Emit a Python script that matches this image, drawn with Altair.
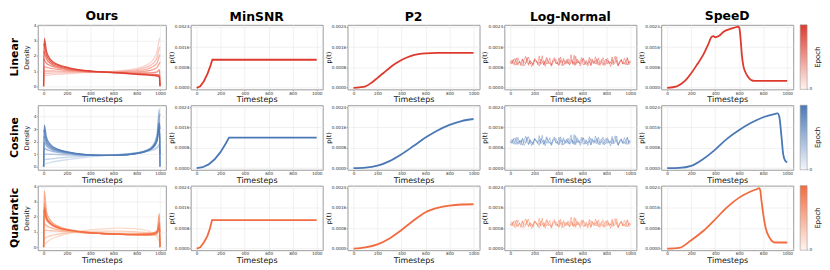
import altair as alt
import numpy as np
import pandas as pd

FONT = "DejaVu Sans"

ROWS = ["Linear", "Cosine", "Quadratic"]
COLS = ["Ours", "MinSNR", "P2", "Log-Normal", "SpeeD"]
ROW_COLORS = ["#dd3a2d", "#4a78b6", "#f26b3f"]
ROW_LIGHT = ["#f9cbc5", "#c9d9ed", "#fcd3c1"]
CB_LIGHT = ["#fff2ef", "#f2f6fb", "#fff4ee"]

X_TICKS = [0, 200, 400, 600, 800, 1000]
P_TICKS = [0.0, 0.0008, 0.0016, 0.0024]
D_TICKS = [0, 1, 2, 3, 4]
D_DOMAINS = [[-0.2, 4.05], [-0.25, 4.9], [-0.2, 4.05]]

# ---- Ours: density curves over training epochs (light = early, dark = late)
OURS_T = [0, 6, 25, 60, 120, 220, 350, 500, 650, 780, 880, 940, 975, 994, 1000]
OURS_LINEAR = [
    [0.0, 0.70, 0.72, 0.75, 0.79, 0.84, 0.90, 0.95, 1.02, 1.15, 1.38, 1.75, 2.30, 3.10, 3.20],
    [0.0, 0.84, 0.85, 0.87, 0.89, 0.91, 0.93, 0.95, 0.99, 1.08, 1.24, 1.50, 1.90, 2.50, 2.60],
    [0.0, 1.00, 1.01, 1.01, 1.00, 0.98, 0.95, 0.94, 0.96, 1.02, 1.12, 1.30, 1.55, 2.00, 2.10],
    [0.0, 1.30, 1.25, 1.18, 1.12, 1.04, 0.97, 0.94, 0.93, 0.95, 1.00, 1.10, 1.25, 1.50, 1.60],
    [1.8, 1.75, 1.52, 1.36, 1.22, 1.09, 0.99, 0.94, 0.90, 0.88, 0.88, 0.90, 0.95, 1.10, 0.50],
    [2.3, 2.25, 1.80, 1.50, 1.30, 1.14, 1.01, 0.94, 0.89, 0.84, 0.81, 0.79, 0.77, 0.74, 0.10],
    [2.8, 2.70, 2.05, 1.62, 1.38, 1.18, 1.03, 0.95, 0.88, 0.82, 0.78, 0.75, 0.72, 0.66, 0.0],
    [0.0, 3.15, 2.30, 1.75, 1.45, 1.22, 1.05, 0.95, 0.88, 0.80, 0.75, 0.71, 0.67, 0.60, 0.0],
]
OURS_COSINE = [
    [0.0, 0.20, 0.26, 0.34, 0.45, 0.58, 0.73, 0.85, 0.96, 1.08, 1.20, 1.32, 1.45, 1.60, 0.30],
    [0.0, 0.55, 0.58, 0.62, 0.68, 0.76, 0.84, 0.90, 0.97, 1.08, 1.22, 1.38, 1.55, 1.80, 0.0],
    [0.0, 1.00, 1.00, 0.99, 0.97, 0.93, 0.90, 0.90, 0.95, 1.07, 1.28, 1.60, 2.20, 3.00, 2.00],
    [0.0, 1.50, 1.38, 1.26, 1.14, 1.02, 0.93, 0.90, 0.94, 1.06, 1.28, 1.70, 2.60, 4.60, 0.0],
    [0.0, 1.95, 1.65, 1.42, 1.22, 1.06, 0.94, 0.90, 0.93, 1.05, 1.25, 1.62, 2.35, 4.00, 4.20],
    [2.4, 2.35, 1.85, 1.52, 1.28, 1.09, 0.95, 0.90, 0.92, 1.03, 1.22, 1.55, 2.15, 3.40, 3.00],
    [2.9, 2.80, 2.05, 1.62, 1.33, 1.12, 0.96, 0.90, 0.92, 1.02, 1.22, 1.52, 2.05, 3.10, 1.00],
    [0.0, 3.30, 2.30, 1.75, 1.40, 1.15, 0.97, 0.90, 0.92, 1.03, 1.25, 1.60, 2.20, 3.50, 0.0],
]
OURS_QUADRATIC = [
    [0.0, 0.15, 0.30, 0.50, 0.70, 0.90, 1.10, 1.20, 1.25, 1.22, 1.10, 0.90, 0.65, 0.35, 0.20],
    [0.0, 0.55, 0.65, 0.75, 0.85, 0.95, 1.02, 1.05, 1.05, 1.02, 0.95, 0.88, 0.80, 0.70, 0.0],
    [0.0, 1.10, 1.10, 1.08, 1.05, 1.00, 0.95, 0.92, 0.90, 0.90, 0.92, 0.96, 1.05, 1.35, 0.0],
    [1.6, 1.55, 1.40, 1.28, 1.15, 1.04, 0.95, 0.90, 0.87, 0.86, 0.88, 0.93, 1.05, 1.50, 1.60],
    [0.0, 3.70, 2.30, 1.75, 1.40, 1.15, 0.99, 0.90, 0.84, 0.80, 0.78, 0.80, 0.90, 1.20, 0.0],
    [0.0, 2.90, 2.00, 1.60, 1.32, 1.12, 0.98, 0.90, 0.85, 0.82, 0.83, 0.88, 1.00, 2.20, 0.0],
    [2.4, 2.30, 1.80, 1.50, 1.27, 1.10, 0.97, 0.90, 0.86, 0.84, 0.85, 0.90, 1.05, 1.60, 1.00],
    [0.0, 2.60, 1.90, 1.55, 1.30, 1.12, 0.98, 0.90, 0.85, 0.82, 0.82, 0.85, 0.95, 1.30, 0.0],
]
OURS_ALL = [OURS_LINEAR, OURS_COSINE, OURS_QUADRATIC]

# ---- MinSNR
MINSNR_T = [
    [0, 30, 60, 90, 110, 131, 1000],
    [0, 50, 100, 150, 200, 240, 270, 1000],
    [0, 30, 60, 90, 110, 128, 1000],
]
MINSNR_P = [
    [0.0, 0.00006, 0.00026, 0.00055, 0.0008, 0.0011, 0.0011],
    [0.0, 0.00004, 0.00015, 0.00035, 0.00064, 0.00095, 0.0012, 0.0012],
    [0.0, 0.00005, 0.00024, 0.0005, 0.00078, 0.00112, 0.00112],
]

# ---- P2
P2_T = [
    [0, 50, 100, 150, 200, 250, 300, 350, 400, 450, 500, 600, 700, 800, 1000],
    [0, 100, 200, 300, 400, 500, 600, 700, 800, 900, 1000],
    [0, 100, 200, 300, 400, 500, 600, 700, 800, 900, 1000],
]
P2_P = [
    [0.0, 0.00002, 0.00006, 0.0002, 0.00039, 0.00058, 0.00078, 0.00095, 0.00109, 0.0012,
     0.00128, 0.00135, 0.00137, 0.00137, 0.00137],
    [0.0, 0.00002, 0.0001, 0.00028, 0.00055, 0.00087, 0.0012, 0.00148, 0.0017, 0.00185, 0.00193],
    [0.0, 0.00005, 0.00017, 0.0004, 0.00073, 0.0011, 0.00143, 0.0016, 0.00169, 0.00173, 0.00174],
]

# ---- Log-Normal (values in units of 1e-5), three sampled runs per schedule
LN_LINEAR_A = [104, 97, 112, 88, 95, 118, 101, 92, 86, 109, 123, 99, 94, 107, 83, 98, 115, 110, 91, 102,
               96, 126, 89, 105, 93, 100, 117, 84, 97, 108, 112, 95, 90, 121, 103, 87, 99, 111, 94, 106,
               130, 92, 101, 88, 113, 97, 104, 119, 90, 96, 108, 85, 102, 114, 99, 93, 122, 105, 89, 100,
               111, 96, 87, 109, 116, 94, 101, 91, 107, 124, 98, 86, 103, 112, 95, 100, 90, 118, 97, 106]
LN_LINEAR_B = [96, 109, 92, 101, 117, 89, 104, 98, 113, 86, 95, 107, 121, 93, 100, 88, 111, 102, 97, 125,
               91, 99, 106, 84, 114, 103, 95, 90, 110, 119, 94, 101, 87, 108, 98, 116, 92, 105, 100, 89,
               112, 96, 128, 93, 102, 107, 85, 99, 115, 104, 91, 97, 120, 88, 106, 101, 94, 113, 99, 87,
               103, 118, 95, 92, 109, 100, 83, 111, 97, 105, 122, 90, 98, 107, 93, 116, 101, 89, 104, 99]
LN_LINEAR_C = [100, 93, 108, 115, 90, 97, 103, 87, 112, 101, 95, 119, 88, 106, 99, 92, 110, 104, 96, 85,
               113, 102, 91, 107, 120, 94, 98, 89, 105, 111, 97, 93, 117, 100, 86, 108, 103, 95, 114, 91,
               99, 106, 88, 124, 97, 102, 93, 109, 115, 90, 101, 96, 104, 87, 112, 98, 107, 92, 118, 95,
               100, 89, 106, 113, 94, 103, 97, 121, 91, 99, 108, 86, 102, 110, 96, 93, 105, 117, 90, 101]
LN_COSINE_A = [108, 99, 116, 93, 104, 121, 97, 110, 90, 106, 125, 101, 95, 113, 88, 103, 118, 107, 96, 111,
               100, 129, 92, 109, 98, 105, 120, 89, 102, 114, 117, 99, 94, 123, 106, 91, 103, 115, 97, 110,
               131, 95, 105, 92, 119, 101, 108, 122, 94, 100, 112, 89, 106, 118, 103, 97, 126, 109, 93, 104,
               115, 100, 91, 113, 120, 98, 105, 95, 111, 127, 102, 90, 107, 116, 99, 104, 94, 121, 101, 110]
LN_COSINE_B = [101, 113, 96, 106, 121, 93, 109, 102, 118, 90, 99, 111, 124, 97, 104, 92, 115, 107, 101, 128,
               95, 103, 110, 88, 119, 108, 99, 94, 114, 123, 98, 105, 91, 112, 102, 120, 96, 109, 104, 93,
               116, 100, 132, 97, 106, 111, 89, 103, 119, 108, 95, 101, 124, 92, 110, 105, 98, 117, 103, 91,
               107, 122, 99, 96, 113, 104, 87, 115, 101, 109, 126, 94, 102, 111, 97, 120, 105, 93, 108, 103]
LN_COSINE_C = [104, 97, 112, 119, 94, 101, 107, 91, 116, 105, 99, 123, 92, 110, 103, 96, 114, 108, 100, 89,
               117, 106, 95, 111, 124, 98, 102, 93, 109, 115, 101, 97, 121, 104, 90, 112, 107, 99, 118, 95,
               103, 110, 92, 128, 101, 106, 97, 113, 119, 94, 105, 100, 108, 91, 116, 102, 111, 96, 122, 99,
               104, 93, 110, 117, 98, 107, 101, 125, 95, 103, 112, 90, 106, 114, 100, 97, 109, 121, 94, 105]
LN_QUADRATIC_A = [98, 91, 106, 82, 93, 112, 99, 88, 84, 103, 117, 95, 90, 101, 79, 96, 109, 104, 87, 100,
                  92, 120, 85, 99, 89, 97, 111, 80, 94, 102, 107, 91, 86, 115, 97, 83, 95, 105, 90, 100,
                  124, 88, 98, 84, 108, 93, 101, 113, 86, 92, 104, 81, 99, 110, 95, 89, 116, 103, 85, 96,
                  106, 92, 83, 105, 112, 90, 97, 87, 103, 118, 94, 82, 99, 108, 91, 96, 86, 113, 93, 102]
LN_QUADRATIC_B = [93, 105, 88, 97, 112, 85, 100, 94, 109, 82, 91, 103, 116, 89, 96, 84, 107, 98, 93, 119,
                  87, 95, 102, 80, 110, 99, 91, 86, 106, 114, 90, 97, 83, 104, 94, 111, 88, 101, 96, 85,
                  108, 92, 122, 89, 98, 103, 81, 95, 110, 100, 87, 93, 115, 84, 102, 97, 90, 108, 95, 83,
                  99, 113, 91, 88, 105, 96, 79, 107, 93, 101, 117, 86, 94, 103, 89, 111, 97, 85, 100, 95]
LN_QUADRATIC_C = [96, 89, 104, 110, 86, 93, 99, 83, 108, 97, 91, 114, 84, 102, 95, 88, 106, 100, 92, 81,
                  109, 98, 87, 103, 115, 90, 94, 85, 101, 107, 93, 89, 112, 96, 82, 104, 99, 91, 109, 87,
                  95, 102, 84, 119, 93, 98, 89, 105, 110, 86, 97, 92, 100, 83, 108, 94, 103, 88, 113, 91,
                  96, 85, 102, 109, 90, 99, 93, 116, 87, 95, 104, 82, 98, 106, 92, 89, 101, 112, 86, 97]
LN_ALL = [[LN_LINEAR_A, LN_LINEAR_B, LN_LINEAR_C],
          [LN_COSINE_A, LN_COSINE_B, LN_COSINE_C],
          [LN_QUADRATIC_A, LN_QUADRATIC_B, LN_QUADRATIC_C]]

# ---- SpeeD
SPEED_T = [
    [0, 80, 150, 200, 250, 300, 340, 370, 385, 400, 430, 470, 520, 560, 592, 602, 612, 622,
     635, 650, 670, 700, 730, 800, 1000],
    [0, 100, 200, 300, 400, 500, 600, 700, 800, 900, 920, 935, 945, 955, 965, 975, 990, 1000],
    [0, 100, 200, 300, 400, 500, 600, 700, 750, 765, 775, 785, 800, 820, 850, 880, 900, 1000],
]
SPEED_P = [
    [0.0, 0.00006, 0.00028, 0.00057, 0.00092, 0.00129, 0.00168, 0.002, 0.00203, 0.00198,
     0.00203, 0.0022, 0.0023, 0.00236, 0.0024, 0.00233, 0.0019, 0.0013, 0.00085, 0.00063,
     0.00045, 0.0003, 0.00027, 0.00027, 0.00027],
    [0.0, 0.00001, 0.00009, 0.00036, 0.00073, 0.00116, 0.0015, 0.00178, 0.002, 0.00213,
     0.00215, 0.002, 0.0016, 0.0011, 0.0006, 0.00038, 0.00026, 0.00024],
    [0.0, 0.00003, 0.00033, 0.00069, 0.00115, 0.00163, 0.002, 0.00225, 0.00234, 0.00237,
     0.0023, 0.0019, 0.00136, 0.00082, 0.00045, 0.00027, 0.00024, 0.00024],
]

W0, W, H = 129, 133, 65


def x_enc():
    return alt.X("t:Q", scale=alt.Scale(domain=[-50, 1050], nice=False, zero=False),
                 axis=alt.Axis(values=X_TICKS, format="d", title="Timesteps", titleFontSize=8,
                               titlePadding=0.5))


def p_enc():
    return alt.Y("p:Q", scale=alt.Scale(domain=[-0.00006, 0.00247], nice=False, zero=False),
                 axis=alt.Axis(values=P_TICKS, format=".4f", title="p(t)", titleFontSize=6.5,
                               titlePadding=0.5, minExtent=16, maxExtent=16))


def col_title(i):
    return alt.Title(COLS[i], fontSize=12.5, font=FONT, fontWeight="bold", offset=1,
                     color="#000000", anchor="middle")


def finish(layers, i, r, width):
    ch = alt.layer(*layers).properties(width=width, height=H)
    if r == 0:
        ch = ch.properties(title=col_title(i))
    return ch


cells = []
for r in range(3):
    color = ROW_COLORS[r]
    # Ours
    recs = []
    for e, curve in enumerate(OURS_ALL[r]):
        for t, d in zip(OURS_T, curve):
            recs.append({"t": t, "density": d, "epoch": e})
    df_ours = pd.DataFrame(recs)
    ours = alt.Chart(df_ours).mark_line(strokeWidth=1.35, opacity=0.85, interpolate="monotone").encode(
        x=x_enc(),
        y=alt.Y("density:Q", scale=alt.Scale(domain=D_DOMAINS[r], nice=False, zero=False),
                axis=alt.Axis(values=D_TICKS, format="d", title="Density", titleFontSize=6.5,
                              titlePadding=3.5, minExtent=5, maxExtent=5)),
        color=alt.Color(f"epoch{r}:Q", scale=alt.Scale(domain=[0, len(OURS_ALL[r]) - 1],
                                                       range=[ROW_LIGHT[r], color]), legend=None),
        detail="epoch:N",
    ).transform_calculate(**{f"epoch{r}": "datum.epoch"})
    label = alt.Chart(pd.DataFrame({"row": [ROWS[r]]})).mark_text(
        angle=270, fontSize=11, font=FONT, fontWeight="bold", align="center", baseline="bottom",
        color="#000000").encode(x=alt.value(-18), y=alt.value(H / 2), text="row:N")
    cells.append(finish([ours, label], 0, r, W0))

    # MinSNR
    df = pd.DataFrame({"t": MINSNR_T[r], "p": MINSNR_P[r]})
    m = alt.Chart(df).mark_line(color=color, strokeWidth=1.8).encode(x=x_enc(), y=p_enc())
    cells.append(finish([m], 1, r, W))

    # P2
    df = pd.DataFrame({"t": P2_T[r], "p": P2_P[r]})
    m = alt.Chart(df).mark_line(color=color, strokeWidth=1.8, interpolate="monotone").encode(
        x=x_enc(), y=p_enc())
    cells.append(finish([m], 2, r, W))

    # Log-Normal
    recs = []
    for s, series in enumerate(LN_ALL[r]):
        ts = np.linspace(0, 1000, len(series))
        for t, v in zip(ts, series):
            recs.append({"t": float(t), "p": v * 1e-5, "s": s})
    df = pd.DataFrame(recs)
    m = alt.Chart(df).mark_line(color=color, strokeWidth=0.65, opacity=0.6).encode(
        x=x_enc(), y=p_enc(), detail="s:N")
    cells.append(finish([m], 3, r, W))

    # SpeeD + colorbar
    df = pd.DataFrame({"t": SPEED_T[r], "p": SPEED_P[r]})
    m = alt.Chart(df).mark_line(color=color, strokeWidth=1.8, interpolate="monotone").encode(
        x=x_enc(), y=p_enc())
    one = pd.DataFrame({"lab": ["0"], "title": ["Epoch"]})
    grad = alt.Gradient(gradient="linear",
                        stops=[alt.GradientStop(offset=0, color=CB_LIGHT[r]),
                               alt.GradientStop(offset=1, color=color)],
                        x1=0, x2=0, y1=1, y2=0)
    bar = alt.Chart(one).mark_rect(fill=grad, stroke="#9a9a9a", strokeWidth=0.6).encode(
        x=alt.value(W + 7), x2=alt.value(W + 14), y=alt.value(0), y2=alt.value(H))
    tick = alt.Chart(one).mark_rule(color="#777777", strokeWidth=0.6).encode(
        x=alt.value(W + 14), x2=alt.value(W + 15.5), y=alt.value(H))
    lab0 = alt.Chart(one).mark_text(fontSize=4.2, font=FONT, align="left", baseline="middle",
                                    color="#333333").encode(
        x=alt.value(W + 16.5), y=alt.value(H), text="lab:N")
    ep = alt.Chart(one).mark_text(fontSize=7, font=FONT, angle=270, align="center", baseline="top",
                                  color="#111111").encode(
        x=alt.value(W + 21), y=alt.value(H / 2), text="title:N")
    cells.append(finish([m, bar, tick, lab0, ep], 4, r, W))

chart = alt.concat(*cells, columns=5, spacing={"row": 16, "column": 25}, bounds="flush",
                   padding=0).resolve_scale(color="independent").configure_view(
    stroke="#9a9a9a", strokeWidth=1
).configure_axis(
    grid=True, gridColor="#ebebeb", gridWidth=0.7, domain=False,
    tickSize=1.5, tickWidth=0.6, tickColor="#777777",
    labelFont=FONT, titleFont=FONT, labelFontSize=4.2, labelPadding=0.3,
    labelColor="#333333", titleColor="#111111", titleFontWeight="normal", labelOverlap=False,
)

chart.save("out.html", embed_options={"renderer": "svg", "actions": False})
